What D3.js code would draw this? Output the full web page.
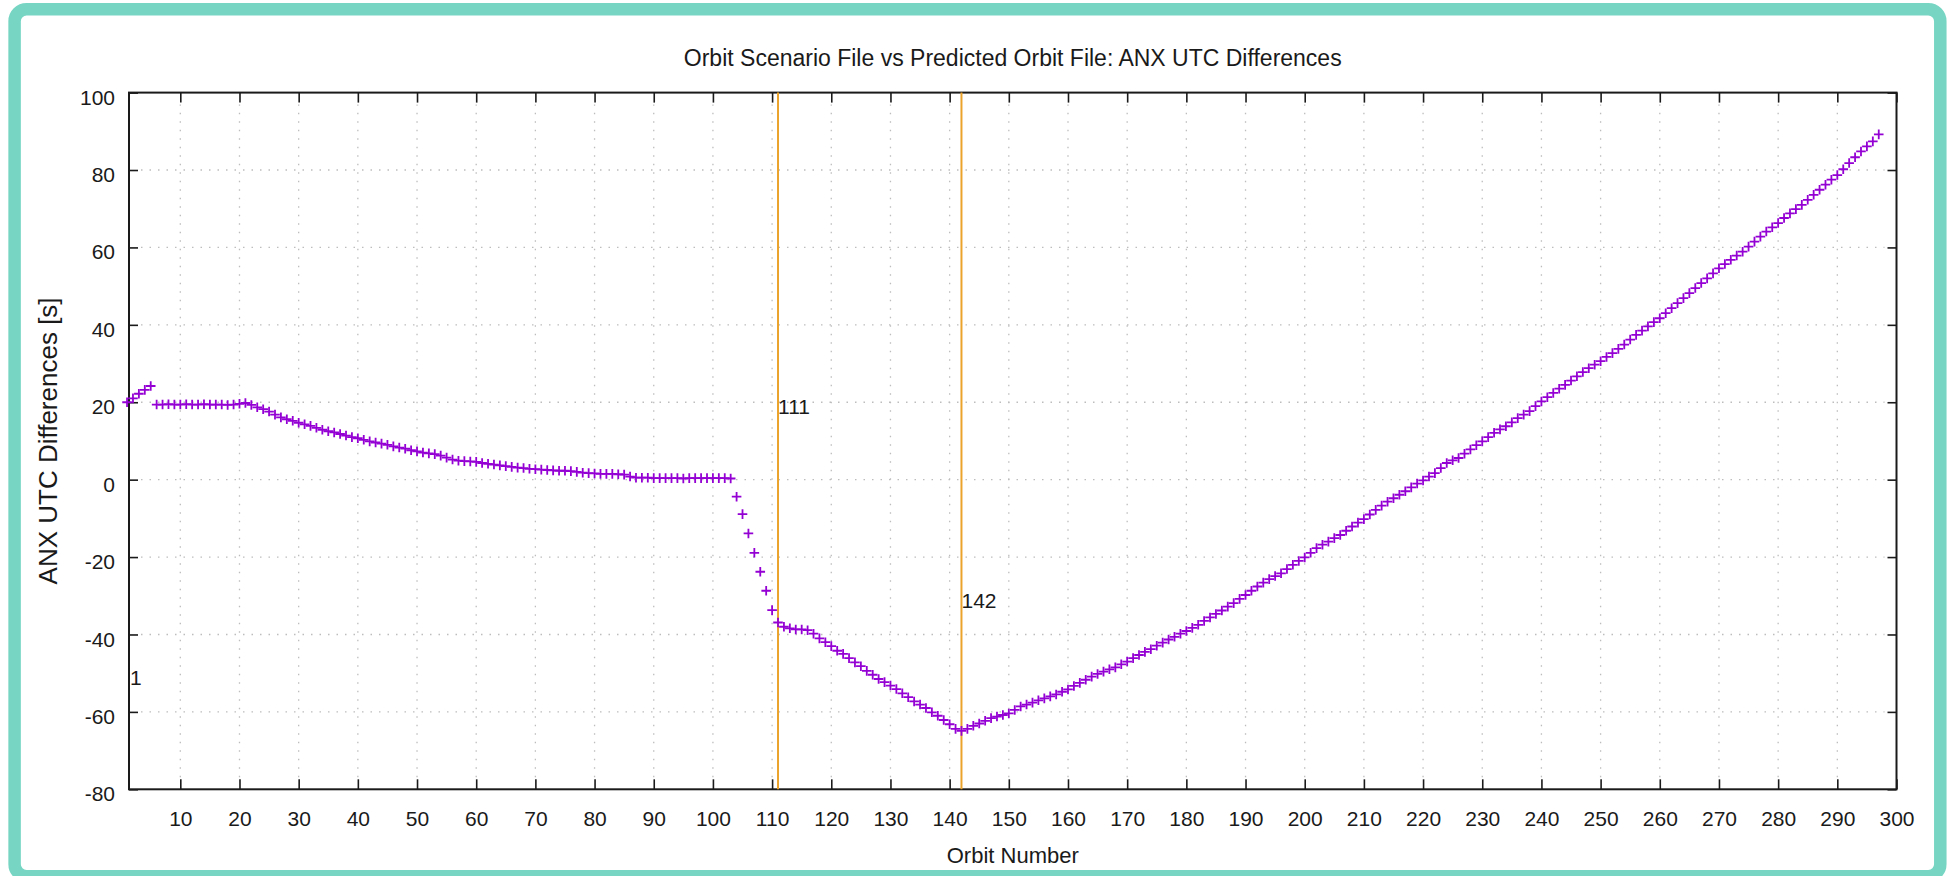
<!DOCTYPE html>
<html>
<head>
<meta charset="utf-8">
<script src="https://cdn.jsdelivr.net/npm/d3@7"></script>
<style>
  html, body { margin: 0; padding: 0; background: #ffffff; }
  svg { display: block; font-family: "Liberation Sans", Arial, Helvetica, sans-serif; }
</style>
</head>
<body>
<svg id="chart" width="1949" height="876"></svg>
<script>
// ---------------- data ----------------
const chartTitle = "Orbit Scenario File vs Predicted Orbit File: ANX UTC Differences";
const xTitle = "Orbit Number";
const yTitle = "ANX UTC Differences [s]";

const firstOrbit = 1;
// ANX UTC differences [s], one value per orbit starting at firstOrbit
const anxDiff = [
  20.0, 21.0, 22.2, 23.2, 24.2,
  19.4, 19.4, 19.5, 19.4, 19.4, 19.5, 19.4, 19.4, 19.5, 19.4, 19.4, 19.4, 19.3,
  19.4, 19.6, 19.8, 19.3, 18.7, 18.2, 17.6, 16.8, 16.1, 15.6, 15.2, 14.7,
  14.3, 13.9, 13.4, 12.9, 12.5, 12.2, 11.8, 11.4, 11.0, 10.7,
  10.3, 9.9, 9.6, 9.3, 9.0, 8.6, 8.3, 8.0, 7.6, 7.3,
  7.0, 6.8, 6.6, 6.2, 5.7, 5.2, 4.9, 4.8, 4.7, 4.6,
  4.3, 4.1, 3.9, 3.7, 3.5, 3.3, 3.1, 3.0, 2.8, 2.7,
  2.6, 2.5, 2.4, 2.3, 2.3, 2.2, 2.0, 1.8, 1.7, 1.6,
  1.5, 1.5, 1.5, 1.4, 1.3, 0.8, 0.5, 0.5, 0.5, 0.4,
  0.4, 0.4, 0.4, 0.4, 0.3, 0.4, 0.4, 0.4, 0.4, 0.4,
  0.4, 0.4, 0.3, -4.4, -8.9, -13.9, -18.9, -23.8, -28.7, -33.7,
  -36.9, -38.0, -38.4, -38.7, -38.7, -38.9, -39.8, -41.0, -42.0, -43.0,
  -44.2, -45.0, -46.1, -47.2, -48.2, -49.4, -50.4, -51.5, -52.3, -53.2,
  -54.1, -55.2, -56.2, -57.3, -58.1, -59.0, -60.1, -61.0, -62.1, -63.2,
  -64.4, -64.9, -64.4, -63.6, -63.0, -62.3, -61.6, -61.2, -60.8, -60.4,
  -59.5, -58.6, -58.1, -57.6, -57.0, -56.5, -56.0, -55.5, -54.8, -54.2,
  -53.3, -52.5, -51.7, -50.9, -50.2, -49.6, -49.0, -48.5, -47.7, -47.0,
  -46.1, -45.3, -44.5, -43.8, -42.9, -42.1, -41.3, -40.6, -39.8, -39.1,
  -38.3, -37.5, -36.5, -35.6, -34.7, -33.8, -32.8, -31.9, -30.8, -29.8,
  -28.7, -27.6, -26.6, -25.7, -24.9, -24.2, -23.1, -22.0, -21.0, -20.1,
  -18.9, -17.7, -16.8, -16.0, -15.1, -14.3, -13.2, -12.1, -11.1, -10.2,
  -9.0, -7.8, -6.7, -5.7, -4.8, -3.9, -3.0, -2.0, -1.0, -0.2,
  0.8, 1.7, 3.0, 4.3, 5.0, 5.6, 6.7, 7.8, 8.9, 9.9,
  11.0, 12.1, 13.0, 13.8, 14.8, 15.9, 16.8, 17.7, 19.0, 20.2,
  21.3, 22.4, 23.5, 24.5, 25.6, 26.7, 27.8, 28.8, 29.7, 30.6,
  31.7, 32.7, 33.8, 34.9, 36.2, 37.4, 38.5, 39.6, 40.7, 41.7,
  43.0, 44.3, 45.6, 46.9, 48.2, 49.5, 50.8, 52.0, 53.3, 54.6,
  55.7, 56.8, 57.9, 58.9, 60.2, 61.5, 62.8, 64.1, 65.2, 66.3,
  67.6, 68.8, 69.9, 71.0, 72.3, 73.6, 74.9, 76.2, 77.5, 78.7,
  80.2, 81.8, 83.3, 84.8, 86.1, 87.4, 89.2
];

// vertical marker lines (orbits) and the y value of their labels
const markerOrbits = [1, 111, 142];
const markerLabels = ["1", "111", "142"];
const markerLabelY = [-51, 19, -31.3];
const markerLineShown = [false, true, true];

const xTicks = [10, 20, 30, 40, 50, 60, 70, 80, 90, 100, 110, 120, 130, 140, 150,
                160, 170, 180, 190, 200, 210, 220, 230, 240, 250, 260, 270, 280, 290, 300];
const yTicks = [-80, -60, -40, -20, 0, 20, 40, 60, 80, 100];
const xDomain = [1.33, 300];
const yDomain = [-80, 100];

// ---------------- layout ----------------
const W = 1949, H = 876;
const plot = { left: 129, right: 1896.5, top: 92.6, bottom: 789.3 };
const purple = "#9400d3";
const orange = "#eba32c";
const teal = "#77d6c3";
const ink = "#1a1a1a";
const fontFamily = "'Liberation Sans', Arial, Helvetica, sans-serif";

const svg = d3.select("#chart");

// outer frame
svg.append("rect").attr("x", 0).attr("y", 0).attr("width", W).attr("height", H).attr("fill", "#ffffff");
svg.append("rect")
  .attr("x", 14.6).attr("y", 9.2).attr("width", 1925.7).attr("height", 867)
  .attr("rx", 12).attr("ry", 12)
  .attr("fill", "#ffffff").attr("stroke", teal).attr("stroke-width", 12.5);

const x = d3.scaleLinear().domain(xDomain).range([plot.left, plot.right]);
const y = d3.scaleLinear().domain(yDomain).range([plot.bottom, plot.top]);

// grid (dotted)
const grid = svg.append("g").attr("stroke", "#bdbdbd").attr("stroke-width", 1.3)
  .attr("stroke-dasharray", "1.5,7");
grid.selectAll("line.gx").data(xTicks.filter(t => t < xDomain[1])).enter().append("line")
  .attr("x1", d => x(d)).attr("x2", d => x(d))
  .attr("y1", plot.bottom - 12).attr("y2", plot.top + 12);
grid.selectAll("line.gy").data(yTicks.filter(t => t > yDomain[0] && t < yDomain[1])).enter().append("line")
  .attr("y1", d => y(d)).attr("y2", d => y(d))
  .attr("x1", plot.left + 12).attr("x2", plot.right - 12);

// axes (ticks point inward on all four sides)
const fontSize = 21;
const plainFmt = d => String(d);
const axB = svg.append("g").attr("transform", `translate(0,${plot.bottom})`)
  .call(d3.axisBottom(x).tickValues(xTicks).tickSize(-10).tickPadding(22).tickFormat(plainFmt));
const axT = svg.append("g").attr("transform", `translate(0,${plot.top})`)
  .call(d3.axisTop(x).tickValues(xTicks).tickSize(-10).tickFormat(""));
const axL = svg.append("g").attr("transform", `translate(${plot.left},0)`)
  .call(d3.axisLeft(y).tickValues(yTicks).tickSize(-9).tickPadding(14).tickFormat(plainFmt));
const axR = svg.append("g").attr("transform", `translate(${plot.right},0)`)
  .call(d3.axisRight(y).tickValues(yTicks).tickSize(-9).tickFormat(""));

[axB, axT, axL, axR].forEach(a => {
  a.select(".domain").remove();
  a.selectAll(".tick line").attr("stroke", ink).attr("stroke-width", 1.6);
  a.selectAll("text").attr("font-size", fontSize).attr("fill", ink)
    .attr("font-family", fontFamily);
});
axL.selectAll("text").attr("dy", "0.55em");

// plot border
svg.append("rect")
  .attr("x", plot.left).attr("y", plot.top)
  .attr("width", plot.right - plot.left).attr("height", plot.bottom - plot.top)
  .attr("fill", "none").attr("stroke", ink).attr("stroke-width", 2);

// vertical marker lines
const markers = markerOrbits.map((o, i) => ({ o, label: markerLabels[i], ly: markerLabelY[i], show: markerLineShown[i] }));
svg.append("g").selectAll("line").data(markers.filter(m => m.show)).enter().append("line")
  .attr("x1", d => x(d.o)).attr("x2", d => x(d.o))
  .attr("y1", plot.top).attr("y2", plot.bottom)
  .attr("stroke", orange).attr("stroke-width", 2);

// data points: '+' markers
const pts = anxDiff.map((v, i) => ({ o: firstOrbit + i, v }));
const arm = 4.8;
svg.append("g").selectAll("path").data(pts).enter().append("path")
  .attr("transform", d => `translate(${x(d.o)},${y(d.v)})`)
  .attr("d", `M${-arm},0H${arm}M0,${-arm}V${arm}`)
  .attr("stroke", purple).attr("stroke-width", 1.8).attr("fill", "none");

// marker labels
svg.append("g").selectAll("text").data(markers).enter().append("text")
  .attr("x", d => Math.max(x(d.o), plot.left + 1))
  .attr("y", d => y(d.ly))
  .attr("dy", "0.36em")
  .attr("font-size", fontSize).attr("fill", ink)
  .text(d => d.label);

// titles
svg.append("text")
  .attr("x", (plot.left + plot.right) / 2).attr("y", 66)
  .attr("text-anchor", "middle").attr("font-size", 23).attr("fill", ink)
  .text(chartTitle);
svg.append("text")
  .attr("x", (plot.left + plot.right) / 2).attr("y", 863)
  .attr("text-anchor", "middle").attr("font-size", 22).attr("fill", ink)
  .text(xTitle);
svg.append("text")
  .attr("transform", `translate(57,${(plot.top + plot.bottom) / 2}) rotate(-90)`)
  .attr("text-anchor", "middle").attr("font-size", 26).attr("fill", ink)
  .text(yTitle);
</script>
</body>
</html>
